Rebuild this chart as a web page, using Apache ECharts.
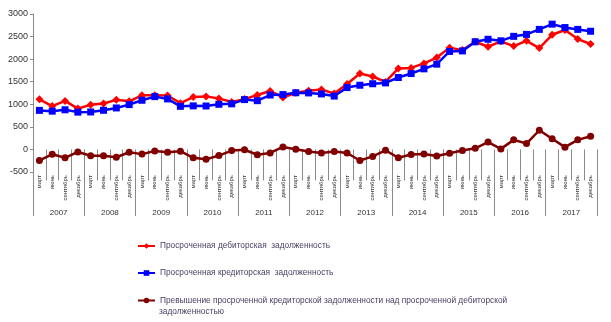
<!DOCTYPE html>
<html>
<head>
<meta charset="utf-8">
<script src="https://cdn.jsdelivr.net/npm/echarts@6/dist/echarts.min.js"></script>
<style>
	html, body { margin: 0; padding: 0; background: #fff; }
	#main { width: 611px; height: 322px; }
</style>
</head>
<body>
<div id="main"></div>
<script type="text/javascript">
	var years = ['2007', '2008', '2009', '2010', '2011', '2012', '2013', '2014', '2015', '2016', '2017'];
	var quarterNames = ['март', 'июнь', 'сентябрь', 'декабрь'];
	var quarters = [];
	years.forEach(function () {
		quarterNames.forEach(function (q) { quarters.push(q); });
	});

	var debtorName = 'Просроченная дебиторская  задолженность';
	var creditorName = 'Просроченная кредиторская  задолженность';
	var excessName = 'Превышение просроченной кредиторской задолженности над просроченной дебиторской';
	var excessName2 = 'задолженностью';

	// просроченная дебиторская
	var debtor = [1110, 960, 1075, 905, 990, 1015, 1100, 1065, 1200, 1200, 1195,
		1025, 1160, 1175, 1130, 1050, 1115, 1205, 1295, 1150, 1255, 1300,
		1325, 1240, 1450, 1680, 1615, 1495, 1795, 1805, 1905, 2035, 2255,
		2200, 2385, 2275, 2395, 2290, 2405, 2245, 2540, 2645, 2445, 2335];
	// просроченная кредиторская
	var creditor = [865, 848, 878, 826, 830, 867, 919, 993, 1089, 1170, 1119,
		955, 965, 962, 1000, 1010, 1104, 1080, 1205, 1215, 1255, 1252,
		1230, 1182, 1370, 1422, 1455, 1474, 1593, 1681, 1785, 1889, 2170,
		2182, 2385, 2440, 2405, 2505, 2548, 2659, 2775, 2700, 2659, 2618];
	// превышение
	var excess = [-244, -108, -185, -56, -141, -141, -174, -63, -104, -33, -63,
		-40, -185, -218, -137, -26, -7, -118, -78, 55, 3, -45,
		-80, -45, -80, -245, -155, -20, -185, -113, -100, -145, -83,
		-25, 25, 163, 12, 212, 130, 425, 235, 50, 212, 292];

	var font = "'Liberation Sans', Arial, sans-serif";
	var legendColor = '#4a3d62';
	var myChart = echarts.init(document.getElementById('main'), null, { renderer: 'canvas' });

	function legendAt(name, top) {
		return {
			data: [name],
			left: 137,
			top: top,
			orient: 'vertical',
			padding: 0,
			itemWidth: 17,
			itemHeight: 7,
			textStyle: { fontFamily: font, fontSize: 8.3, color: legendColor }
		};
	}

	var option = {
		animation: false,
		backgroundColor: '#fff',
		grid: { left: 33, right: 14, top: 14, bottom: 150, containLabel: false },
		legend: [
			legendAt(debtorName, 242),
			legendAt(creditorName, 269),
			legendAt(excessName, 296.5)
		],
		graphic: [
			{
				type: 'text',
				left: 159,
				top: 308,
				style: { text: excessName2, font: '8.3px ' + font, fill: legendColor }
			}
		],
		xAxis: [
			{
				type: 'category',
				data: quarters,
				position: 'bottom',
				boundaryGap: true,
				axisLine: { show: false },
				axisTick: { show: true, interval: 0, length: 31, lineStyle: { color: '#8a8a8a' } },
				axisLabel: { interval: 0, rotate: 90, fontSize: 6, margin: 3, color: '#333', fontFamily: font },
				splitLine: { show: false }
			},
			{
				type: 'category',
				data: years,
				position: 'bottom',
				boundaryGap: true,
				axisLine: { show: false },
				axisTick: { show: true, interval: 0, length: 44, lineStyle: { color: '#8a8a8a' } },
				axisLabel: { interval: 0, fontSize: 8, margin: 37, color: '#333', fontFamily: font },
				splitLine: { show: false }
			}
		],
		yAxis: {
			type: 'value',
			min: -500,
			max: 3000,
			interval: 500,
			axisLine: { show: true, lineStyle: { color: '#8a8a8a' } },
			axisTick: { show: true, length: 3, lineStyle: { color: '#8a8a8a' } },
			axisLabel: {
				fontSize: 9, margin: 5, color: '#333', fontFamily: font,
				formatter: function (v) { return String(v); }
			},
			splitLine: { show: false }
		},
		series: [
			{
				name: debtorName,
				type: 'line',
				xAxisIndex: 0,
				data: debtor,
				symbol: 'diamond',
				symbolSize: 8,
				color: '#ff0000',
				lineStyle: { width: 2.5, color: '#ff0000' },
				itemStyle: { color: '#ff0000' }
			},
			{
				name: creditorName,
				type: 'line',
				xAxisIndex: 0,
				data: creditor,
				symbol: 'rect',
				symbolSize: 7,
				color: '#0000ff',
				lineStyle: { width: 2.5, color: '#0000ff' },
				itemStyle: { color: '#0000ff' }
			},
			{
				name: excessName,
				type: 'line',
				xAxisIndex: 0,
				data: excess,
				symbol: 'circle',
				symbolSize: 7,
				color: '#800000',
				lineStyle: { width: 2.5, color: '#800000' },
				itemStyle: { color: '#800000' }
			}
		]
	};
	myChart.setOption(option);
</script>
</body>
</html>
